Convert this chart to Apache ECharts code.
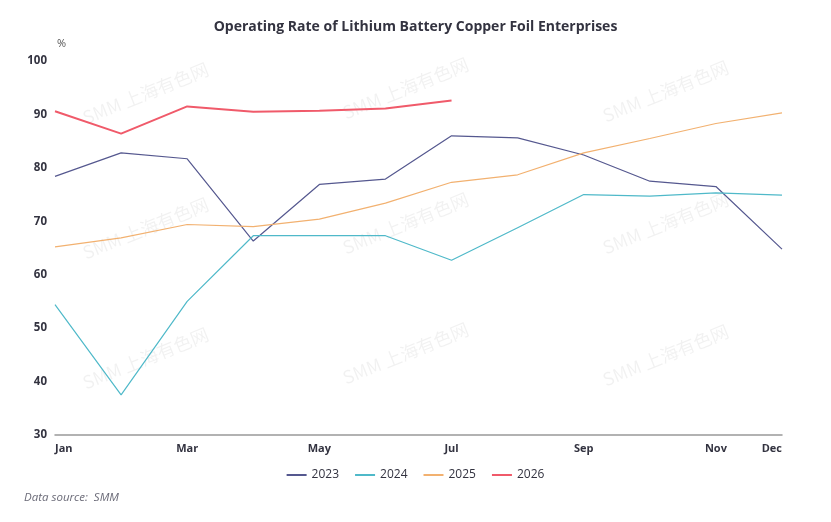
<!DOCTYPE html>
<html>
<head>
<meta charset="utf-8">
<title>Operating Rate of Lithium Battery Copper Foil Enterprises</title>
<script src="https://cdn.jsdelivr.net/npm/echarts@6/dist/echarts.min.js"></script>
<style>
    html, body { margin: 0; padding: 0; background: #fff; }
    #chart { width: 831px; height: 522px; }
</style>
</head>
<body>
<div id="chart"></div>
<script>
// 月份和刻度
var months = ['Jan', 'Feb', 'Mar', 'Apr', 'May', 'Jun', 'Jul', 'Aug', 'Sep', 'Oct', 'Nov', 'Dec'];
var shownMonths = ['Jan', 'Mar', 'May', 'Jul', 'Sep', 'Nov', 'Dec'];

// 各年开工率 (%)
var rate2023 = [78.4, 82.8, 81.7, 66.3, 76.9, 77.9, 86.0, 85.6, 82.4, 77.5, 76.5, 64.8];
var rate2024 = [54.4, 37.5, 55.0, 67.3, 67.3, 67.3, 62.7, 68.8, 75.0, 74.7, 75.3, 74.9];
var rate2025 = [65.2, 66.9, 69.4, 69.0, 70.4, 73.4, 77.3, 78.7, 82.8, 85.5, 88.3, 90.3];
var rate2026 = [90.6, 86.4, 91.5, 90.5, 90.7, 91.1, 92.6];

var myChart = echarts.init(document.getElementById('chart'));

// 水印
var marks = [];
[[80, 110], [340, 105], [600, 108], [80, 245], [340, 240], [600, 240], [80, 375], [340, 370], [600, 372]].forEach(function (p) {
    marks.push({
        type: 'text',
        x: p[0],
        y: p[1],
        rotation: Math.PI / 180 * 22,
        silent: true,
        style: {
            text: 'SMM 上海有色网',
            fill: 'rgba(0,0,0,0.055)',
            font: '18px "Noto Sans CJK SC", sans-serif'
        }
    });
});
marks.push({
    type: 'text',
    left: 24,
    top: 492,
    style: {
        text: 'Data source:  SMM',
        fill: '#6b6b78',
        font: 'italic 11.5px "Open Sans", sans-serif'
    }
});

var option = {
    backgroundColor: '#fff',
    title: {
        text: 'Operating Rate of Lithium Battery Copper Foil Enterprises',
        left: 'center',
        top: 15,
        textStyle: {
            fontFamily: 'Open Sans',
            fontSize: 14,
            fontWeight: 'bold',
            color: '#333340'
        }
    },
    legend: {
        bottom: 36,
        left: 'center',
        itemWidth: 20,
        itemHeight: 2,
        itemGap: 16,
        icon: 'rect',
        textStyle: { fontFamily: 'Open Sans', fontSize: 12, color: '#333340' },
        data: ['2023', '2024', '2025', '2026']
    },
    grid: {
        left: 55,
        right: 49,
        top: 61,
        bottom: 87
    },
    xAxis: {
        type: 'category',
        boundaryGap: false,
        data: months,
        axisLine: { lineStyle: { color: '#999', width: 1.5 } },
        axisTick: { show: false },
        axisLabel: {
            interval: function (i, v) { return shownMonths.indexOf(v) > -1; },
            alignMinLabel: 'left',
            alignMaxLabel: 'right',
            margin: 8,
            fontFamily: 'Open Sans',
            fontSize: 11,
            fontWeight: 'bold',
            color: '#333340'
        }
    },
    yAxis: {
        type: 'value',
        min: 30,
        max: 100,
        interval: 10,
        name: '%',
        nameGap: 12,
        nameTextStyle: { align: 'left', fontFamily: 'Open Sans', fontSize: 11, color: '#555', padding: [0, 0, 0, 2] },
        axisLine: { show: false },
        axisTick: { show: false },
        splitLine: { show: false },
        axisLabel: {
            margin: 8,
            fontFamily: 'Open Sans',
            fontSize: 11.5,
            fontWeight: 'bold',
            color: '#333340'
        }
    },
    series: [
        { name: '2023', type: 'line', data: rate2023, symbol: 'none', color: '#55588f', lineStyle: { width: 1.2 } },
        { name: '2024', type: 'line', data: rate2024, symbol: 'none', color: '#4fb9c9', lineStyle: { width: 1.2 } },
        { name: '2025', type: 'line', data: rate2025, symbol: 'none', color: '#f2b170', lineStyle: { width: 1.2 } },
        { name: '2026', type: 'line', data: rate2026, symbol: 'none', color: '#f05a6a', lineStyle: { width: 2 } }
    ],
    graphic: marks
};

myChart.setOption(option);

window.addEventListener('resize', function () {
    myChart.resize();
});
</script>
</body>
</html>
